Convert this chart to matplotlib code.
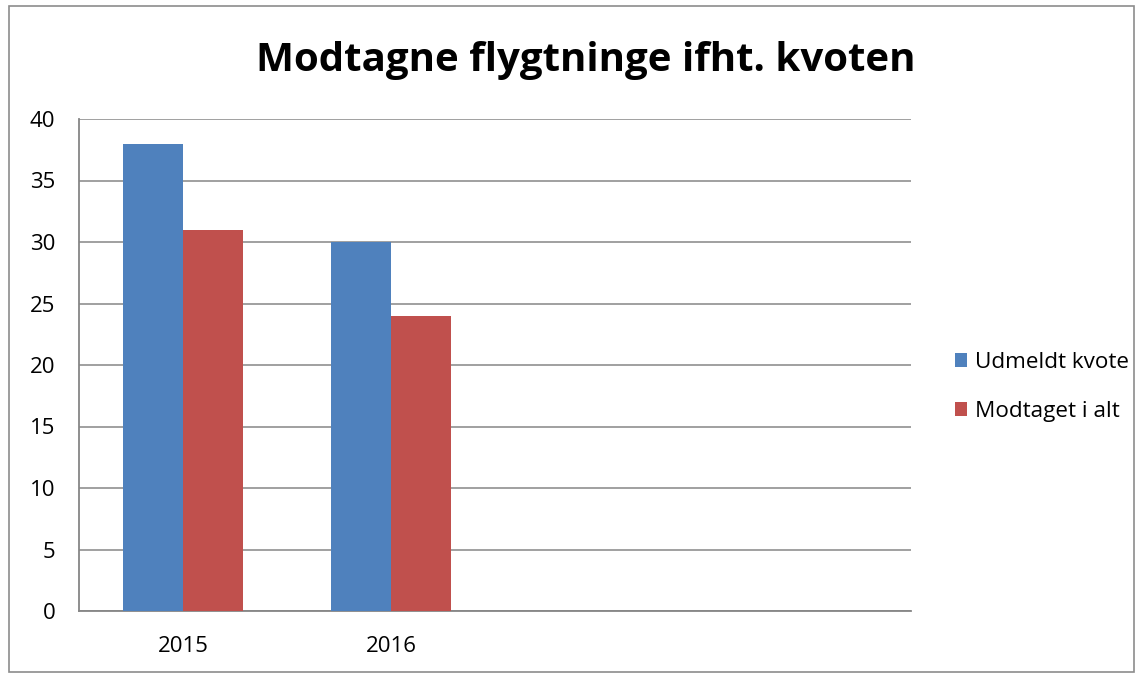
import matplotlib.pyplot as plt
from matplotlib.patches import Rectangle
import numpy as np

categories = ["2015", "2016", "", ""]
udmeldt_kvote = [38, 30, None, None]
modtaget_i_alt = [31, 24, None, None]
series_names = ["Udmeldt kvote", "Modtaget i alt"]
yticks = [0, 5, 10, 15, 20, 25, 30, 35, 40]

blue = "#4F81BD"
red = "#C0504D"
grid_color = "#868686"

plt.rcParams["font.family"] = ["Open Sans", "DejaVu Sans"]

fig = plt.figure(figsize=(11.44, 6.81), dpi=100)
fig.patches.append(Rectangle((9 / 1144, 9 / 681), 1125 / 1144, 666 / 681,
                             transform=fig.transFigure, fill=False,
                             edgecolor="#8c8c8c", linewidth=1.2))

ax = fig.add_axes([79 / 1144, 70 / 681, 832 / 1144, 492 / 681])

x = np.arange(len(categories)) + 0.5
w = 60 / 208
blue_vals = [v if v is not None else 0 for v in udmeldt_kvote]
red_vals = [v if v is not None else 0 for v in modtaget_i_alt]
ax.bar(x - w / 2, blue_vals, width=w, color=blue, label=series_names[0], zorder=3)
ax.bar(x + w / 2, red_vals, width=w, color=red, label=series_names[1], zorder=3)

ax.set_xlim(0, len(categories))
ax.set_ylim(0, 40)
ax.set_yticks(yticks)
ax.set_xticks(x)
ax.set_xticklabels(categories)
ax.tick_params(axis="both", length=0, labelsize=16, colors="black")
ax.tick_params(axis="y", pad=17)
ax.tick_params(axis="x", pad=18)

ax.yaxis.grid(True, color=grid_color, linewidth=1.1, zorder=0)
for side in ["top", "right"]:
    ax.spines[side].set_visible(False)
ax.spines["left"].set_color(grid_color)
ax.spines["bottom"].set_color(grid_color)
ax.spines["left"].set_linewidth(1.3)
ax.spines["bottom"].set_linewidth(1.3)

fig.text(586 / 1144, 1 - 60 / 681, "Modtagne flygtninge ifht. kvoten",
         ha="center", va="center", fontsize=29, fontweight="bold")

ax.legend(loc="center left", bbox_to_anchor=(1.042, 0.455), frameon=False,
          fontsize=16.2, handlelength=0.55, handleheight=0.55, handletextpad=0.35,
          labelspacing=1.25, borderaxespad=0.0)

fig.savefig("out.png", dpi=100)
